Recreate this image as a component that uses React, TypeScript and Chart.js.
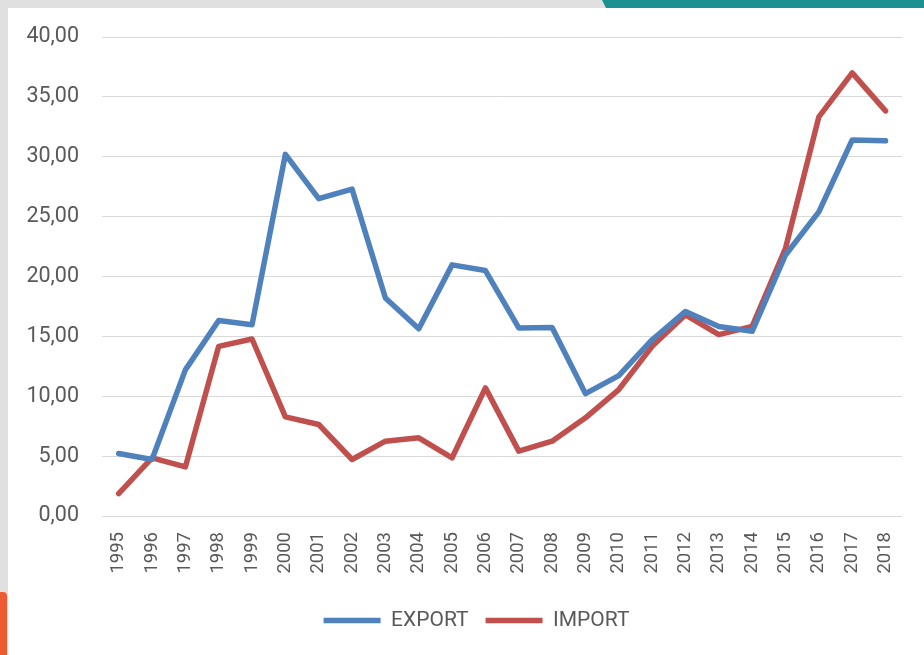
import React, { useEffect, useRef } from "react";
import { Chart, registerables } from "chart.js";

Chart.register(...registerables);

const years = [
  "1995", "1996", "1997", "1998", "1999", "2000", "2001", "2002", "2003", "2004", "2005", "2006",
  "2007", "2008", "2009", "2010", "2011", "2012", "2013", "2014", "2015", "2016", "2017", "2018",
];

const exportValues = [
  5.22, 4.72, 12.2, 16.33, 15.97, 30.2, 26.5, 27.3, 18.2, 15.64, 20.97, 20.5,
  15.7, 15.75, 10.22, 11.72, 14.72, 17.08, 15.83, 15.42, 21.8, 25.4, 31.4, 31.33,
];

const importValues = [
  1.87, 4.86, 4.1, 14.17, 14.78, 8.28, 7.64, 4.72, 6.25, 6.53, 4.86, 10.7,
  5.42, 6.25, 8.2, 10.56, 14.17, 16.8, 15.14, 15.83, 22.36, 33.33, 37.0, 33.83,
];

const seriesNames = ["EXPORT", "IMPORT"];
const yMin = 0;
const yMax = 40;
const yStep = 5;

const legendShift = {
  id: "legendShift",
  afterLayout(chart: any) {
    const lg = chart.legend;
    if (lg) {
      lg.left += 17;
      lg.right += 17;
    }
  },
};

export default function App() {
  const canvasRef = useRef<HTMLCanvasElement | null>(null);

  useEffect(() => {
    const canvas = canvasRef.current;
    if (!canvas) return;
    const chart = new Chart(canvas, {
      type: "line",
      data: {
        labels: years,
        datasets: [
          {
            label: seriesNames[0],
            data: exportValues,
            borderColor: "#4F81BD",
            backgroundColor: "#4F81BD",
            borderWidth: 5.5,
            pointRadius: 0,
            pointHoverRadius: 0,
            tension: 0,
            borderJoinStyle: "round",
            borderCapStyle: "round",
          },
          {
            label: seriesNames[1],
            data: importValues,
            borderColor: "#C0504D",
            backgroundColor: "#C0504D",
            borderWidth: 5.5,
            pointRadius: 0,
            pointHoverRadius: 0,
            tension: 0,
            borderJoinStyle: "round",
            borderCapStyle: "round",
          },
        ],
      },
      plugins: [legendShift],
      options: {
        responsive: false,
        animation: false,
        layout: { padding: { left: 8, right: 13, top: 37, bottom: 14 } },
        plugins: {
          tooltip: { enabled: false },
          legend: {
            position: "bottom",
            align: "center",
            labels: {
              usePointStyle: true,
              pointStyle: "line",
              pointStyleWidth: 57,
              boxHeight: 21,
              padding: 17,
              color: "#595959",
              font: { family: "Roboto", size: 21 },
            },
          },
        },
        scales: {
          x: {
            offset: true,
            grid: { display: false, drawTicks: false },
            border: { display: false },
            ticks: {
              color: "#595959",
              font: { family: "Roboto", size: 18.5 },
              minRotation: 90,
              maxRotation: 90,
              padding: 16,
              autoSkip: false,
            },
            afterFit: (scale: any) => {
              scale.height = 77;
            },
          },
          y: {
            min: yMin,
            max: yMax,
            grid: { color: "#D9D9D9", lineWidth: 1, drawTicks: false },
            border: { display: false },
            ticks: {
              stepSize: yStep,
              color: "#595959",
              font: { family: "Roboto", size: 21.5 },
              padding: 23,
              callback: (v: any) => Number(v).toFixed(2).replace(".", ","),
            },
            afterFit: (scale: any) => {
              scale.width = 94;
            },
          },
        },
      },
    });
    return () => chart.destroy();
  }, []);

  return (
    <div style={{ position: "fixed", left: 0, top: 0, width: 924, height: 655, background: "#E0E0E0", overflow: "hidden" }}>
      <div style={{ position: "absolute", left: 8, top: 8, right: 0, bottom: 0, background: "#FFFFFF" }} />
      <div
        style={{
          position: "absolute",
          left: 602,
          top: 0,
          width: 322,
          height: 8,
          background: "#1B9191",
          clipPath: "polygon(0 0, 100% 0, 100% 100%, 4px 100%)",
        }}
      />
      <div
        style={{
          position: "absolute",
          left: 0,
          top: 592,
          width: 7,
          height: 63,
          background: "#EE5A32",
          borderTopRightRadius: 4,
        }}
      />
      <canvas ref={canvasRef} width={924} height={655} style={{ position: "absolute", left: 0, top: 0, width: 924, height: 655 }} />
    </div>
  );
}
